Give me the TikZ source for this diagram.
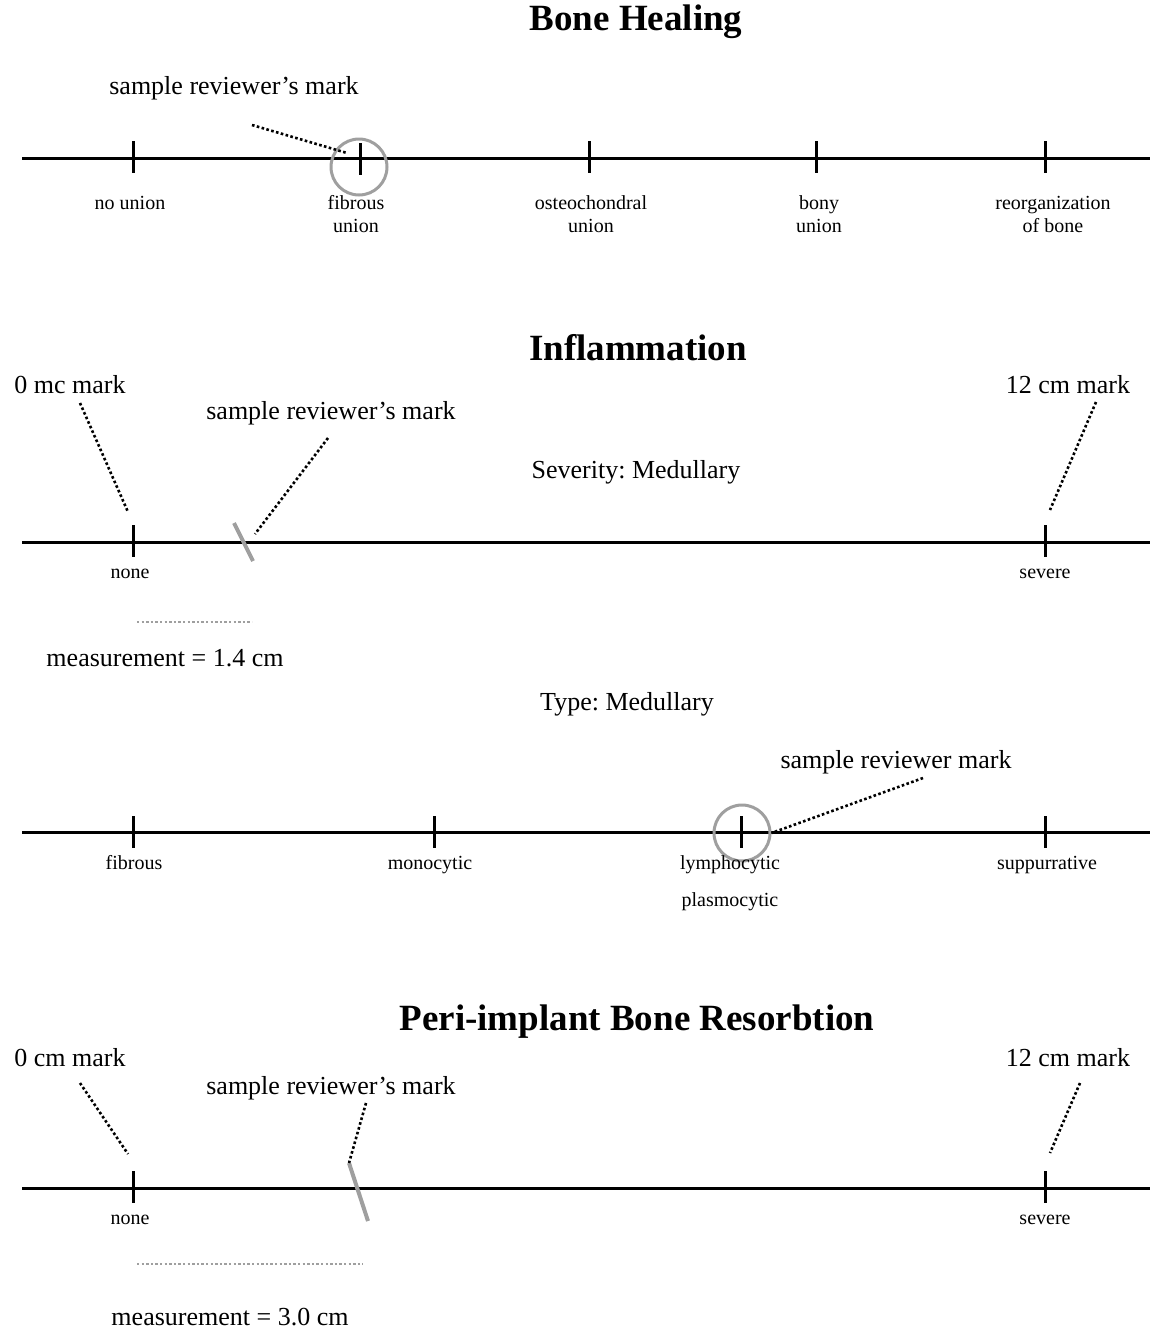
\documentclass[tikz,border=0pt]{standalone}
\usepackage{fontspec}
\setmainfont{Liberation Serif}
\usetikzlibrary{positioning}
\frenchspacing

\begin{document}
\begin{tikzpicture}[x=1pt,y=-1pt,node distance=14pt,
  heading/.style={font=\bfseries\fontsize{37}{40}\selectfont},
  note/.style={font=\fontsize{26}{30}\selectfont},
  tagpair/.style={font=\fontsize{20}{23}\selectfont,align=center,inner sep=0pt},
  tag/.style={tagpair,text height=14pt,text depth=5pt},
  axis/.style={line width=3pt},
  tickmark/.style={line width=3pt},
  leader/.style={line width=2.6pt,dash pattern=on 2.6pt off 2.4pt},
  ring/.style={draw=gray!75,line width=3pt,circle,minimum size=56pt,inner sep=0pt},
  slash/.style={gray!75,line width=4pt},
  span/.style={gray!75,line width=2.4pt,dash pattern=on 2.4pt off 2.2pt}]
    \useasboundingbox (0,0) rectangle (1150,1331);

    % Bone Healing
    \node[heading] (t1) at (636,22) {Bone Healing};
    \coordinate (a1w) at (22,158);
    \coordinate (a1e) at (1150,158);
    \draw[axis] (a1w) -- (a1e);
    \coordinate (h1) at (133,157);
    \coordinate (h2) at (360,159);
    \coordinate (h3) at (589,157);
    \coordinate (h4) at (816,157);
    \coordinate (h5) at (1045,157);
    \foreach \t in {h1,h2,h3,h4,h5}
        \draw[tickmark] (\t) ++(0,-16) -- ++(0,32);
    \node[ring] (c1) at (359,167) {};
    \node[tag] (l1) at (130,205) {no union};
    \node[tagpair] (l2) at (356,214) {fibrous\\union};
    \node[tagpair] (l3) at (591,214) {osteochondral\\union};
    \node[tagpair] (l4) at (819,214) {bony\\union};
    \node[tagpair] (l5) at (1053,214) {reorganization\\of bone};
    \node[note] (s1) at (234,88) {sample reviewer's mark};
    \coordinate (s1a) at (252,125);
    \coordinate (s1b) at (347,153);
    \draw[leader] (s1a) -- (s1b);

    % Inflammation: severity
    \node[heading] (t2) at (638,348) {Inflammation};
    \node[note] (z2) at (70,385) {0 mc mark};
    \node[note] (s2) at (331,413) {sample reviewer's mark};
    \node[note] (e2) at (1068,385) {12 cm mark};
    \node[note] (v2) at (636,472) {Severity: Medullary};
    \coordinate (a2w) at (22,542);
    \coordinate (a2e) at (1150,542);
    \draw[axis] (a2w) -- (a2e);
    \coordinate (n2) at (133,541);
    \coordinate (r2) at (1045,541);
    \foreach \t in {n2,r2}
        \draw[tickmark] (\t) ++(0,-16) -- ++(0,32);
    \node[tag] (ln2) at (130,574) {none};
    \node[tag] (lr2) at (1045,574) {severe};
    \coordinate (k2a) at (234,523);
    \coordinate (k2b) at (253,561);
    \draw[slash] (k2a) -- (k2b);
    \coordinate (z2a) at (80,403);
    \coordinate (z2b) at (128,512);
    \draw[leader] (z2a) -- (z2b);
    \coordinate (s2a) at (328,438);
    \coordinate (s2b) at (255,534);
    \draw[leader] (s2a) -- (s2b);
    \coordinate (e2a) at (1096,402);
    \coordinate (e2b) at (1050,510);
    \draw[leader] (e2a) -- (e2b);
    \coordinate (m2a) at (137,622);
    \coordinate (m2b) at (252,622);
    \draw[span] (m2a) -- (m2b);
    \node[note] (q2) at (165,658) {measurement = 1.4 cm};

    % Inflammation: type
    \node[note] (v3) at (627,704) {Type: Medullary};
    \node[note] (s3) at (896,762) {sample reviewer mark};
    \coordinate (a3w) at (22,832);
    \coordinate (a3e) at (1150,832);
    \draw[axis] (a3w) -- (a3e);
    \coordinate (y1) at (133,832);
    \coordinate (y2) at (434,832);
    \coordinate (y3) at (741,832);
    \coordinate (y4) at (1045,832);
    \foreach \t in {y1,y2,y3,y4}
        \draw[tickmark] (\t) ++(0,-16) -- ++(0,32);
    \node[ring] (c3) at (742,833) {};
    \node[tag] (ly1) at (134,865) {fibrous};
    \node[tag] (ly2) at (430,865) {monocytic};
    \node[tag] (ly3) at (730,865) {lymphocytic};
    \node[tag] (ly3b) [below=18pt of ly3] {plasmocytic};
    \node[tag] (ly4) at (1047,865) {suppurrative};
    \coordinate (s3a) at (923,778);
    \draw[leader] (s3a) -- (c3.east);

    % Peri-implant Bone Resorbtion
    \node[heading] (t4) at (637,1022) {Peri-implant Bone Resorbtion};
    \node[note] (z4) at (70,1058) {0 cm mark};
    \node[note] (s4) at (331,1088) {sample reviewer's mark};
    \node[note] (e4) at (1068,1058) {12 cm mark};
    \coordinate (a4w) at (22,1188);
    \coordinate (a4e) at (1150,1188);
    \draw[axis] (a4w) -- (a4e);
    \coordinate (n4) at (133,1187);
    \coordinate (r4) at (1045,1187);
    \foreach \t in {n4,r4}
        \draw[tickmark] (\t) ++(0,-16) -- ++(0,32);
    \node[tag] (ln4) at (130,1220) {none};
    \node[tag] (lr4) at (1045,1220) {severe};
    \coordinate (k4a) at (349,1163);
    \coordinate (k4b) at (368,1221);
    \draw[slash] (k4a) -- (k4b);
    \coordinate (z4a) at (80,1083);
    \coordinate (z4b) at (128,1154);
    \draw[leader] (z4a) -- (z4b);
    \coordinate (s4a) at (366,1103);
    \draw[leader] (s4a) -- (k4a);
    \coordinate (e4a) at (1080,1083);
    \coordinate (e4b) at (1050,1153);
    \draw[leader] (e4a) -- (e4b);
    \coordinate (m4a) at (137,1264);
    \coordinate (m4b) at (363,1264);
    \draw[span] (m4a) -- (m4b);
    \node[note] (q4) at (230,1317) {measurement = 3.0 cm};
\end{tikzpicture}
\end{document}
